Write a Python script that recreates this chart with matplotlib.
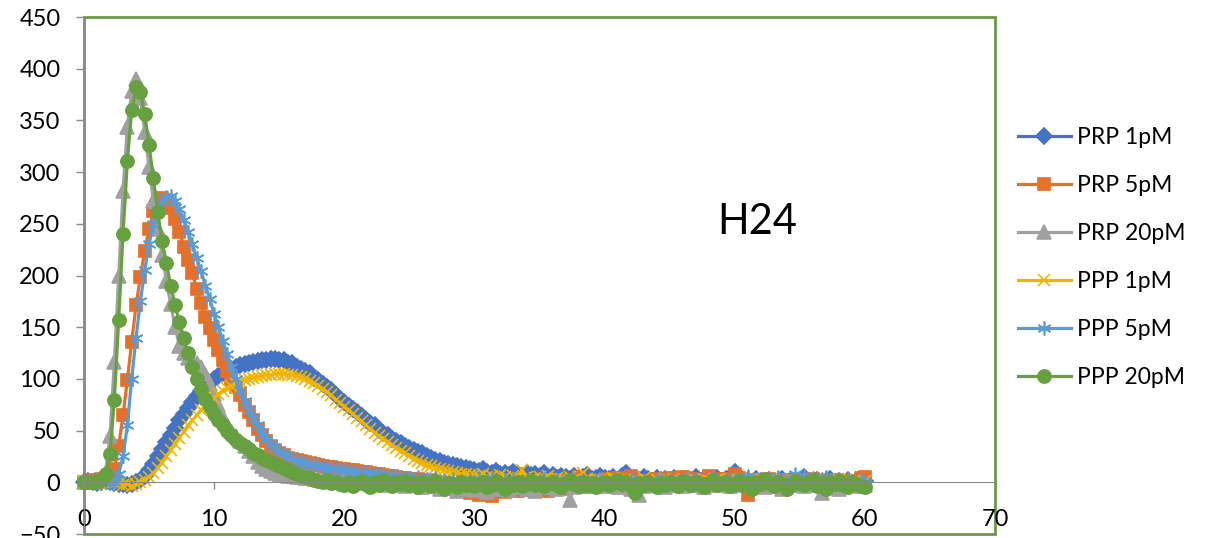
import numpy as np
import matplotlib.pyplot as plt
from matplotlib.patches import Rectangle

plt.rcParams['font.family'] = ['Lato', 'DejaVu Sans']

# readings every 20 s (1/3 min), 0 .. 60 min
prp_1pm = [
    0, 1, 0, -1, 0, 1, 0, -1, -2, -2, -3, -2, 0, 2, 6,
    12, 18, 25, 32, 39, 46, 53, 60, 66, 72, 78, 83, 88, 92, 96,
    100, 103, 106, 108, 110, 112, 113, 114, 115, 116, 117, 118, 118, 119, 119,
    118, 118, 115, 115, 112, 110, 108, 106, 101, 99, 95, 92, 89, 84, 81,
    78, 74, 71, 68, 64, 60, 57, 55, 51, 48, 46, 42, 40, 38, 35,
    33, 31, 29, 28, 25, 24, 22, 21, 19, 18, 17, 16, 15, 14, 13,
    12, 11, 13, 10, 9, 11, 8, 9, 7, 10, 8, 6, 9, 7, 8,
    6, 9, 5, 7, 4, 6, 5, 3, 6, 4, 5, 7, 3, 4, 6,
    4, 3, 5, 2, 6, 9, 4, 3, 2, 5, 3, 1, 4, 2, 3,
    2, 4, 1, 3, 0, 2, 5, 1, 3, 0, 2, 4, 1, 3, 2,
    10, 3, 1, 2, 0, 3, 1, -1, 2, 0, 1, 3, -1, 2, 0,
    2, 5, 1, -1, 2, 0, 1, 3, -2, 1, 0, 2, -1, 1, 0,
    1]
prp_5pm = [
    0, 0, 1, 2, 3, 4, 6, 13, 35, 65, 99, 136, 171, 199, 224,
    245, 262, 272, 275, 273, 265, 255, 242, 228, 215, 202, 187, 173, 160, 149,
    138, 128, 118, 108, 100, 92, 84, 75, 68, 60, 52, 46, 40, 35, 31,
    28, 26, 24, 23, 22, 21, 20, 19, 18, 17, 16, 15, 15, 14, 13,
    13, 12, 12, 11, 10, 10, 9, 8, 8, 7, 6, 6, 5, 4, 4,
    3, 2, 3, 1, 0, 2, -2, 0, -4, -1, -6, -3, -8, -2, -10,
    -5, -12, -4, -8, -13, -6, -3, -9, -2, -5, -8, -1, -4, -7, -2,
    -5, -1, -8, -3, 2, -4, -6, 0, -3, 5, -2, -5, 1, -3, 0,
    -2, 3, -1, 4, 0, -3, 6, 2, -2, 1, -4, 0, 3, -1, 2,
    4, -2, 1, 5, -1, 3, 0, -3, 2, 6, 1, -2, 3, 0, 2,
    8, 4, -3, -12, 1, -4, 2, -1, 3, 0, -5, 2, -1, 1, -3,
    0, 2, -2, 3, -1, 1, -4, 0, 2, -6, -1, 1, -3, 0, 4,
    5]
prp_20pm = [
    0, 0, 0, 1, 2, 10, 45, 116, 200, 282, 344, 378, 390, 372, 339,
    305, 272, 245, 220, 195, 172, 150, 132, 125, 120, 117, 115, 112, 105, 95,
    85, 75, 63, 55, 50, 45, 40, 35, 30, 25, 20, 16, 13, 11, 9,
    8, 7, 6, 6, 5, 5, 4, 4, 3, 3, 2, 3, 1, 2, 1,
    2, 0, 1, -1, 2, 0, -2, 1, -1, 0, -3, 1, -2, 0, -4,
    -1, -3, 0, -5, -2, -4, -1, -6, -3, -2, -5, -8, -3, -6, -4,
    -7, -3, -5, -9, -2, -6, -4, -1, -7, -3, -5, -2, -6, -4, -8,
    -3, -5, -1, -4, -6, -2, -3, -17, -5, -1, -4, -2, 0, -3, -1,
    -4, -2, 0, -5, -3, -1, -6, -2, -12, -4, -1, -3, 0, -2, -5,
    -1, -3, 0, -4, -2, 1, -3, -1, -5, -2, 0, -3, 1, -2, -4,
    -2, 0, -3, -1, -4, 1, -2, -5, 0, -3, -1, -6, -2, 0, -3,
    -1, -4, -2, 0, -3, -10, -1, -4, -2, -6, 0, -3, -1, -2, -4,
    -3]
ppp_1pm = [
    0, 1, 0, -1, 0, 0, -1, 0, -2, -3, -2, -4, -2, 0, 2,
    5, 9, 14, 19, 25, 31, 37, 43, 49, 55, 60, 65, 70, 74, 78,
    82, 85, 88, 91, 93, 95, 97, 99, 100, 101, 102, 103, 104, 104, 105,
    105, 105, 104, 104, 103, 102, 100, 98, 96, 93, 90, 87, 84, 80, 77,
    73, 70, 66, 62, 59, 55, 52, 48, 45, 42, 39, 36, 33, 30, 28,
    25, 23, 21, 19, 17, 16, 14, 13, 12, 11, 10, 9, 8, 8, 7,
    7, 6, 8, 5, 6, 4, 7, 5, 3, 6, 4, 12, 5, 3, 4,
    5, 3, 6, 2, 4, 3, 1, 5, 2, 4, 9, 3, 1, 3, 2,
    3, 1, 4, 2, 0, 3, 1, 2, 0, 4, 1, -1, 2, 0, 3,
    1, 2, -1, 3, 0, 2, 1, -2, 3, 1, 0, 2, -1, 1, 3,
    0, 2, -1, 1, 3, 0, -2, 1, 2, -1, 0, 2, 1, -1, 0,
    2, -1, 1, 0, 3, -2, 1, 0, -3, 2, 0, 1, -1, 2, 0,
    1]
ppp_5pm = [
    0, 0, 1, 0, -1, 0, 0, 0, 8, 25, 55, 100, 140, 175, 205,
    230, 250, 263, 272, 276, 277, 272, 264, 254, 242, 230, 217, 204, 190, 177,
    163, 150, 137, 124, 112, 100, 89, 79, 70, 62, 55, 48, 42, 37, 33,
    30, 27, 25, 23, 21, 20, 19, 18, 17, 16, 15, 14, 14, 13, 12,
    12, 11, 10, 10, 9, 9, 8, 8, 7, 7, 6, 6, 5, 5, 4,
    4, 3, 5, 2, 3, 1, 4, 0, 2, -1, 3, 0, 1, -2, 2,
    0, 3, -1, 1, 4, -2, 0, 2, -1, 3, 0, -2, 1, 2, -1,
    1, 3, -1, 0, 2, -2, 1, 0, 3, -1, 2, 0, -3, 1, 2,
    0, -1, 2, 1, -2, 0, 3, 1, -1, 2, 0, -2, 1, 3, 0,
    2, -1, 1, 0, 3, -1, 2, 0, -2, 1, 4, 0, -1, 2, 1,
    3, 0, 2, 6, 1, -1, 2, 0, 3, 1, 5, 2, 0, 3, 8,
    2, 6, 1, 4, 0, 3, 5, 1, -2, 2, 0, 3, 1, -1, 2,
    0]
ppp_20pm = [
    0, 0, 0, 1, 2, 8, 27, 80, 157, 240, 311, 360, 382, 377, 356,
    326, 294, 261, 233, 212, 190, 171, 155, 140, 125, 112, 100, 90, 81, 73,
    66, 60, 55, 50, 46, 41, 38, 35, 32, 28, 26, 24, 22, 20, 18,
    16, 14, 12, 10, 8, 6, 5, 4, 2, 1, 0, 2, -1, 0, -2,
    -3, 0, -4, -1, 1, -2, -5, 0, -3, 2, -1, -4, 0, -2, 1,
    -3, -1, -5, 0, -2, -4, 1, -3, -6, -1, -2, -5, 0, -3, -1,
    -4, -2, 0, -5, -3, 1, -2, -6, -1, -3, 0, -4, -2, 1, -3,
    -1, -4, -2, 0, -3, -5, -1, 2, -2, -4, 0, -3, -1, -5, -2,
    0, -3, -1, 2, -2, 0, -4, -10, -1, -3, 0, -2, -5, -1, -3,
    0, -2, -4, 1, -1, -3, 0, -2, -5, -1, 2, -3, -1, 0, -4,
    -2, 1, -3, -1, -6, 0, -2, 3, -1, -4, 0, -2, -6, -3, 1,
    -1, -3, 0, 2, -4, -1, -6, 0, -2, 1, -3, -5, 0, -2, -4,
    -5]

labels = ['PRP 1pM', 'PRP 5pM', 'PRP 20pM', 'PPP 1pM', 'PPP 5pM', 'PPP 20pM']
series = [prp_1pm, prp_5pm, prp_20pm, ppp_1pm, ppp_5pm, ppp_20pm]
colors = ['#4472c4', '#e5702a', '#a0a0a0', '#f0b400', '#5b9bd5', '#66a040']
markers = ['D', 's', '^', 'x', (6, 2, 0), 'o']
msizes = [8, 8.5, 9.5, 9, 10, 9.5]

minutes = np.arange(len(prp_1pm)) / 3

fig = plt.figure(figsize=(12.12, 5.38), dpi=100)
ax = fig.add_axes([0.0693, 0.0074, 0.7517, 0.9610])

for y, lab, col, mk, ms in zip(series, labels, colors, markers, msizes):
    ax.plot(minutes, y, color=col, lw=2.3, marker=mk, ms=ms,
            mfc=col, mec=col, mew=1.2, label=lab, clip_on=False)

ax.set_xlim(0, 70)
ax.set_ylim(-50, 450)
ax.set_xticks(range(0, 71, 10))
ax.set_yticks(range(-50, 451, 50))

# gray axes crossing at zero, green border round the plot area
axis_gray = '#898989'
ax.spines['bottom'].set_position(('data', 0))
ax.spines['bottom'].set_color(axis_gray)
ax.spines['left'].set_color(axis_gray)
ax.spines['top'].set_visible(False)
ax.spines['right'].set_visible(False)
ax.add_patch(Rectangle((0, 0), 1, 1, transform=ax.transAxes, fill=False,
                       edgecolor='#6a9a48', lw=2, clip_on=False, zorder=0.5))

ax.tick_params(axis='x', direction='out', length=5, width=1, color=axis_gray,
               pad=14, labelsize=17)
ax.tick_params(axis='y', direction='out', length=6, width=1, color=axis_gray,
               pad=11, labelsize=17)

fig.text(0.625, 0.587, 'H24', fontsize=30, ha='center', va='center')

ax.legend(loc='center left', bbox_to_anchor=(0.823, 0.522), bbox_transform=fig.transFigure,
          frameon=False, numpoints=1, fontsize=16.5, handlelength=2.3,
          handletextpad=0.25, labelspacing=1.18)

fig.savefig('out.png', dpi=100)
